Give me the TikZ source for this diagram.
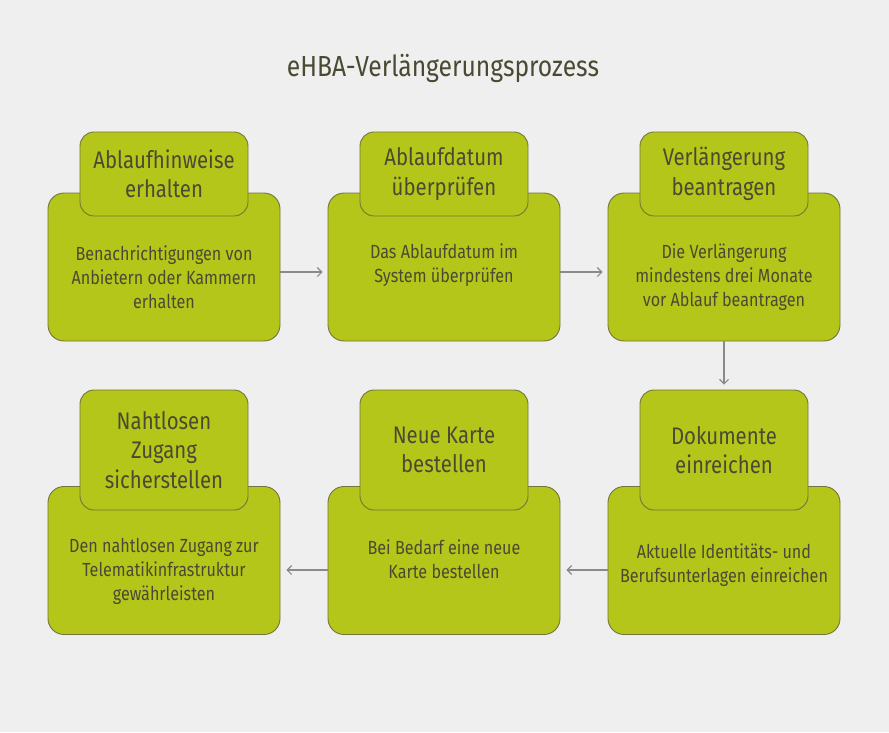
\documentclass[tikz,border=0pt]{standalone}
\usepackage{fontspec}
\setmainfont[FakeStretch=0.85]{Fira Sans}
\usetikzlibrary{arrows.meta}
\definecolor{bg}{HTML}{EFEFEF}
\definecolor{lime}{HTML}{B5C61B}
\definecolor{edge}{HTML}{72763A}
\definecolor{txt}{HTML}{4A4A33}
\definecolor{arrowc}{HTML}{8A8A8A}
\tikzset{
  bigbox/.style={draw=edge, line width=0.9pt, fill=lime, rounded corners=16pt,
    minimum width=232pt, minimum height=148pt, inner sep=0pt},
  headbox/.style={draw=edge, line width=0.9pt, fill=lime, rounded corners=14pt,
    minimum width=168pt, inner sep=0pt, align=center, text=txt,
    font=\fontsize{24}{29.5}\selectfont},
  body/.style={align=center, text=txt, inner sep=0pt,
    font=\fontsize{19}{24}\selectfont},
  arr/.style={draw=arrowc, line width=1.1pt, -{Straight Barb[length=4.5pt,width=9pt]}}
}
\begin{document}
\begin{tikzpicture}[x=1pt,y=-1pt]
\fill[bg] (0,0) rectangle (889,732);
\useasboundingbox (0,0) rectangle (889,732);
\node[text=txt, font=\fontsize{29}{32}\selectfont] (title) at (443,68) {eHBA-Verlängerungsprozess};
% row 1
\node[bigbox] (b1) at (164,267) {};
\node[headbox, minimum height=84pt] (h1) at (164,174) {Ablaufhinweise\\erhalten};
\node[body] (t1) at (164,277) {Benachrichtigungen von\\Anbietern oder Kammern\\erhalten};
\node[bigbox] (b2) at (444,267) {};
\node[headbox, minimum height=84pt] (h2) at (444,174) {Ablaufdatum\\überprüfen};
\node[body] (t2) at (444,265) {Das Ablaufdatum im\\System überprüfen};
\node[bigbox] (b3) at (724,267) {};
\node[headbox, minimum height=84pt] (h3) at (724,174) {Verlängerung\\beantragen};
\node[body] (t3) at (724,277) {Die Verlängerung\\mindestens drei Monate\\vor Ablauf beantragen};
% row 2
\node[bigbox] (b6) at (724,560.5) {};
\node[headbox, minimum height=120pt] (h6) at (724,450) {Dokumente\\einreichen};
\node[body] (t6) at (724,565) {Aktuelle Identitäts- und\\Berufsunterlagen einreichen};
\node[bigbox] (b5) at (444,560.5) {};
\node[headbox, minimum height=120pt] (h5) at (444,450) {Neue Karte\\bestellen};
\node[body] (t5) at (444,559) {Bei Bedarf eine neue\\Karte bestellen};
\node[bigbox] (b4) at (164,560.5) {};
\node[headbox, minimum height=120pt] (h4) at (164,450) {Nahtlosen\\Zugang\\sicherstellen};
\node[body] (t4) at (164,571) {Den nahtlosen Zugang zur\\Telematikinfrastruktur\\gewährleisten};
% connectors
\draw[arr] ([yshift=-5pt]b1.east) -- ([yshift=-5pt,xshift=-5pt]b2.west);
\draw[arr] ([yshift=-5pt]b2.east) -- ([yshift=-5pt,xshift=-5pt]b3.west);
\draw[arr] (b3.south) -- ([yshift=5pt]h6.north);
\draw[arr] ([yshift=-9.5pt]b6.west) -- ([yshift=-9.5pt,xshift=6pt]b5.east);
\draw[arr] ([yshift=-9.5pt]b5.west) -- ([yshift=-9.5pt,xshift=6pt]b4.east);
\end{tikzpicture}
\end{document}
